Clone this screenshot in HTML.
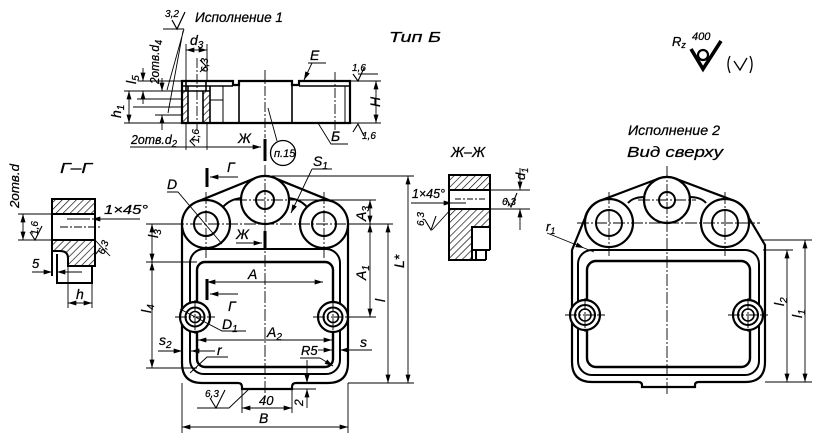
<!DOCTYPE html>
<html><head><meta charset="utf-8"><style>
html,body{margin:0;padding:0;background:#fff}
svg{display:block}
text{font-family:"Liberation Sans",sans-serif;font-style:italic;fill:#000;stroke:#000;stroke-width:0.25}
</style></head><body>
<svg width="827" height="445" viewBox="0 0 827 445" xmlns="http://www.w3.org/2000/svg">
<defs>
<marker id="ar" viewBox="0 0 10 6" refX="10" refY="3" markerWidth="9" markerHeight="5" markerUnits="userSpaceOnUse" orient="auto-start-reverse"><path d="M0,0 L10,3 L0,6 Z" fill="#000"/></marker>
<pattern id="h" width="5" height="5" patternUnits="userSpaceOnUse" patternTransform="rotate(45)"><line x1="0" y1="0" x2="0" y2="5" stroke="#000" stroke-width="1.3"/></pattern>
</defs>
<rect width="827" height="445" fill="#fff"/>

<!-- ============ TOP SECTION VIEW (Исполнение 1) ============ -->
<g stroke="#000" fill="none">
<rect x="182" y="91" width="6" height="32" fill="url(#h)" stroke="none"/>
<rect x="203" y="91" width="7" height="32" fill="url(#h)" stroke="none"/>
<path stroke-width="2.2" d="M182,123 L182,81 L233,81 L233,85 L239,85 L239,81 L292,81 L292,85 L299,85 L299,81 L350,81 L350,123 Z"/>
<path stroke-width="1.6" d="M182,86 H233 M299,86 H350 M239,81 V123 M292,81 V123 M210,86 V123 M188,86 V123 M203,91 V123 M182,91 H210 M186,81 V91 M206,81 V91"/>
<path stroke-width="1" d="M223,86 V100 M210,100 H223 M223,100 V123 M345,86 V123"/>
<path stroke-width="0.9" stroke-dasharray="10 2 2 2" d="M197,58 V130 M265,70 V138 M335,72 V130"/>
<path stroke-width="0.9" d="M350,81 H381 M350,123 H381"/>
<line x1="376" y1="81" x2="376" y2="123" stroke-width="0.9" marker-start="url(#ar)" marker-end="url(#ar)"/>
<path stroke-width="0.9" d="M124,91 H182 M137,99 H182 M133,107 H182 M155,115 H182 M124,123 H182 M138,81 H182"/>
<line x1="129" y1="91" x2="129" y2="123" stroke-width="0.9" marker-start="url(#ar)" marker-end="url(#ar)"/>
<line x1="143" y1="68" x2="143" y2="81" stroke-width="0.9" marker-end="url(#ar)"/>
<line x1="143" y1="104" x2="143" y2="91" stroke-width="0.9" marker-end="url(#ar)"/>
<line x1="162" y1="78" x2="162" y2="91" stroke-width="0.9" marker-end="url(#ar)"/>
<line x1="162" y1="130" x2="162" y2="115" stroke-width="0.9" marker-end="url(#ar)"/>
<path stroke-width="0.9" d="M163,29 H184 M184,29 L167,90 M183,31 L168,113"/>
<path stroke-width="1.2" d="M172,20 L177,29 L185,12"/>
<path stroke-width="0.9" d="M186,44 V81 M207,44 V81"/>
<line x1="186" y1="50" x2="207" y2="50" stroke-width="0.9" marker-start="url(#ar)" marker-end="url(#ar)"/>
<path stroke-width="1.1" d="M200,60 L206,66 L200,72"/>
<path stroke-width="0.9" d="M308,63 H326"/>
<line x1="312" y1="63" x2="304" y2="80" stroke-width="0.9" marker-end="url(#ar)"/>
<path stroke-width="1.1" d="M353,74 L358,81 L364,68 M358,74 H378"/>
<path stroke-width="1.1" d="M353,132 L358,124 L364,136"/>
<path stroke-width="0.9" d="M318,123 L331,144 H348"/>
<circle cx="283" cy="153" r="12.5" stroke-width="1.3"/>
<line x1="277" y1="141" x2="268" y2="108" stroke-width="0.9"/>
<path stroke-width="0.9" d="M186,123 V150 M207,123 V150"/>
<line x1="130" y1="147" x2="261" y2="147" stroke-width="0.9" marker-end="url(#ar)"/>
<path stroke-width="1.1" d="M195,136 L190,141 L195,146"/>
<line x1="265" y1="139" x2="265" y2="161" stroke-width="3"/>
</g>
<text x="195" y="22" font-size="14" textLength="88" lengthAdjust="spacingAndGlyphs">Исполнение 1</text>
<text x="165" y="17" font-size="10" textLength="14" lengthAdjust="spacingAndGlyphs">3,2</text>
<text x="389" y="42" font-size="15" textLength="52" lengthAdjust="spacingAndGlyphs">Тип  Б</text>
<text x="190" y="45" font-size="14">d<tspan font-size="10" dy="3">3</tspan></text>
<text x="208" y="72" font-size="10" transform="rotate(-90 208 72)">6,3</text>
<text x="310" y="60" font-size="14">E</text>
<text x="352" y="71" font-size="10">1,6</text>
<text x="362" y="139" font-size="10">1,6</text>
<text x="331" y="141" font-size="14">Б</text>
<text x="274" y="157" font-size="11">п.15</text>
<text x="380" y="107" font-size="14" transform="rotate(-90 380 107)">H</text>
<text x="121" y="118" font-size="14" transform="rotate(-90 121 118)">h<tspan font-size="10" dy="3">1</tspan></text>
<text x="136" y="84" font-size="14" transform="rotate(-90 136 84)">l<tspan font-size="10" dy="3">5</tspan></text>
<text x="159" y="84" font-size="13" transform="rotate(-90 159 84)" textLength="44" lengthAdjust="spacingAndGlyphs">2отв.d<tspan font-size="10" dy="3">4</tspan></text>
<text x="131" y="144" font-size="13" textLength="46" lengthAdjust="spacingAndGlyphs">2отв.d<tspan font-size="10" dy="3">2</tspan></text>
<text x="199" y="143" font-size="10" transform="rotate(-90 199 143)">1,6</text>
<text x="238" y="143" font-size="14">Ж</text>

<!-- ============ MAIN VIEW ============ -->
<g stroke="#000" fill="none">
<path stroke-width="2.2" d="M182,232 L182,224 A24,24 0 0 1 197,201.8 L256,177.8 A24,24 0 0 1 274,177.8 L333,201.8 A24,24 0 0 1 348,224 L348,363 Q348,383 328,383 L296,383 Q292,383 292,387 L292,389 L242,389 L242,387 Q242,383 238,383 L202,383 Q182,383 182,363 Z"/>
<rect x="190" y="249" width="150" height="125" rx="14" stroke-width="2"/>
<rect x="197" y="262" width="136" height="105" rx="8" stroke-width="2.4"/>
<circle cx="265" cy="200" r="24" fill="#fff" stroke-width="2.2"/>
<circle cx="265" cy="200" r="9" stroke-width="2"/>
<circle cx="206" cy="224" r="24" fill="#fff" stroke-width="2.2"/>
<circle cx="206" cy="224" r="12" stroke-width="2"/>
<circle cx="324" cy="224" r="24" fill="#fff" stroke-width="2.2"/>
<circle cx="324" cy="224" r="12" stroke-width="2"/>
<path stroke-width="2" d="M223,207 Q230,199 242,198 M288,198 Q300,199 307,207"/>
<circle cx="195" cy="317" r="15" fill="#fff" stroke-width="2.2"/>
<circle cx="195" cy="317" r="9.5" stroke-width="2"/>
<circle cx="195" cy="317" r="5.5" stroke-width="1.6"/>
<circle cx="333" cy="317" r="15" fill="#fff" stroke-width="2.2"/>
<circle cx="333" cy="317" r="9.5" stroke-width="2"/>
<circle cx="333" cy="317" r="5.5" stroke-width="1.6"/>
<path stroke-width="0.9" stroke-dasharray="12 2 2 2" d="M265,165 V398 M235,200 H300 M172,224 H360 M206,192 V258 M324,192 V258 M175,317 H215 M195,300 V334 M313,317 H353 M333,300 V334"/>
<line x1="207" y1="168" x2="207" y2="187" stroke-width="3"/>
<line x1="238" y1="177" x2="210" y2="177" stroke-width="0.9" marker-end="url(#ar)"/>
<line x1="207" y1="279" x2="207" y2="300" stroke-width="3"/>
<line x1="238" y1="294" x2="210" y2="294" stroke-width="0.9" marker-end="url(#ar)"/>
<line x1="265" y1="231" x2="265" y2="250" stroke-width="3"/>
<line x1="236" y1="243" x2="262" y2="243" stroke-width="0.9" marker-end="url(#ar)"/>
<path stroke-width="0.9" d="M167,192 H178 L222,244"/>
<path stroke-width="0.9" d="M312,169 H332"/>
<line x1="312" y1="169" x2="291" y2="213" stroke-width="0.9" marker-end="url(#ar)"/>
<path stroke-width="0.9" d="M272,176 H414 M292,200 H376 M349,224 H393 M348,317 H376 M348,383 H414"/>
<line x1="370" y1="200" x2="370" y2="224" stroke-width="0.9" marker-start="url(#ar)" marker-end="url(#ar)"/>
<line x1="370" y1="224" x2="370" y2="317" stroke-width="0.9" marker-start="url(#ar)" marker-end="url(#ar)"/>
<line x1="388" y1="224" x2="388" y2="383" stroke-width="0.9" marker-start="url(#ar)" marker-end="url(#ar)"/>
<line x1="408" y1="176" x2="408" y2="383" stroke-width="0.9" marker-start="url(#ar)" marker-end="url(#ar)"/>
<path stroke-width="0.9" d="M146,224 H182 M146,262 H197 M146,368 H197"/>
<line x1="152" y1="224" x2="152" y2="262" stroke-width="0.9" marker-start="url(#ar)" marker-end="url(#ar)"/>
<line x1="152" y1="262" x2="152" y2="368" stroke-width="0.9" marker-start="url(#ar)" marker-end="url(#ar)"/>
<line x1="207" y1="282" x2="323" y2="282" stroke-width="0.9" marker-start="url(#ar)" marker-end="url(#ar)"/>
<line x1="198" y1="340" x2="332" y2="340" stroke-width="0.9" marker-start="url(#ar)" marker-end="url(#ar)"/>
<path stroke-width="0.9" d="M246,331 H222 L180,309"/>
<line x1="158" y1="351" x2="182" y2="351" stroke-width="0.9" marker-end="url(#ar)"/>
<line x1="215" y1="351" x2="191" y2="351" stroke-width="0.9" marker-end="url(#ar)"/>
<path stroke-width="0.9" d="M228,357 H207 L190,373"/>
<path stroke-width="0.9" d="M300,358 H320"/>
<line x1="320" y1="358" x2="333" y2="366" stroke-width="0.9" marker-end="url(#ar)"/>
<line x1="318" y1="350" x2="332" y2="350" stroke-width="0.9" marker-end="url(#ar)"/>
<line x1="372" y1="350" x2="340" y2="350" stroke-width="0.9" marker-end="url(#ar)"/>
<path stroke-width="0.9" d="M182,383 V433 M348,383 V433 M242,389 V413 M292,389 V413 M292,389 H316"/>
<line x1="242" y1="408" x2="292" y2="408" stroke-width="0.9" marker-start="url(#ar)" marker-end="url(#ar)"/>
<line x1="182" y1="427" x2="348" y2="427" stroke-width="0.9" marker-start="url(#ar)" marker-end="url(#ar)"/>
<line x1="307" y1="360" x2="307" y2="383" stroke-width="0.9" marker-end="url(#ar)"/>
<line x1="307" y1="408" x2="307" y2="389" stroke-width="0.9" marker-end="url(#ar)"/>
<path stroke-width="0.9" d="M197,408 H229 L249,389"/>
<path stroke-width="1.1" d="M210,398 L216,408 L225,390"/>
</g>
<text x="167" y="189" font-size="14">D</text>
<text x="313" y="166" font-size="14">S<tspan font-size="10" dy="3">1</tspan></text>
<text x="227" y="172" font-size="14">Г</text>
<text x="228" y="311" font-size="14">Г</text>
<text x="236" y="239" font-size="14">Ж</text>
<text x="248" y="279" font-size="14">A</text>
<text x="366" y="221" font-size="14" transform="rotate(-90 366 221)">A<tspan font-size="10" dy="3">3</tspan></text>
<text x="366" y="280" font-size="14" transform="rotate(-90 366 280)">A<tspan font-size="10" dy="3">1</tspan></text>
<text x="385" y="302" font-size="14" transform="rotate(-90 385 302)">l</text>
<text x="404" y="268" font-size="14" transform="rotate(-90 404 268)">L*</text>
<text x="158" y="238" font-size="14" transform="rotate(-90 158 238)">l<tspan font-size="10" dy="3">3</tspan></text>
<text x="151" y="313" font-size="14" transform="rotate(-90 151 313)">l<tspan font-size="10" dy="3">4</tspan></text>
<text x="222" y="329" font-size="14">D<tspan font-size="10" dy="3">1</tspan></text>
<text x="267" y="337" font-size="14">A<tspan font-size="10" dy="3">2</tspan></text>
<text x="159" y="345" font-size="14">s<tspan font-size="10" dy="3">2</tspan></text>
<text x="217" y="355" font-size="14">r</text>
<text x="301" y="355" font-size="13">R5</text>
<text x="360" y="347" font-size="14">s</text>
<text x="259" y="405" font-size="13">40</text>
<text x="259" y="423" font-size="14">B</text>
<text x="303" y="406" font-size="12" transform="rotate(-90 303 406)">2</text>
<text x="205" y="397" font-size="10">6,3</text>

<!-- ============ Г–Г SECTION ============ -->
<g stroke="#000" fill="none">
<rect x="52" y="199" width="43" height="15" fill="url(#h)" stroke-width="2"/>
<path fill="url(#h)" stroke-width="2" d="M52,240 L95,240 L95,266 L68,266 L68,258 Q68,251 60,251 L52,251 Z"/>
<path stroke-width="2" d="M52,199 V276 M95,199 V266 M92,266 V283 H57 V254 M52,214 H95 M52,240 H95"/>
<path stroke-width="0.9" stroke-dasharray="8 2 2 2" d="M60,227 H100"/>
<path stroke-width="0.9" d="M68,266 V308 M92,283 V308 M18,214 H52 M18,240 H52"/>
<line x1="23" y1="214" x2="23" y2="240" stroke-width="0.9" marker-start="url(#ar)" marker-end="url(#ar)"/>
<path stroke-width="1.1" d="M30,232 L35,240 L42,226"/>
<line x1="140" y1="219" x2="92" y2="219" stroke-width="0.9" marker-end="url(#ar)"/>
<path stroke-width="0.9" d="M67,219 H90"/>
<path stroke-width="0.9" d="M95,240 L110,256"/>
<path stroke-width="1.1" d="M99,250 L95,255"/>
<line x1="32" y1="272" x2="52" y2="272" stroke-width="0.9" marker-end="url(#ar)"/>
<line x1="82" y1="272" x2="57" y2="272" stroke-width="0.9" marker-end="url(#ar)"/>
<line x1="68" y1="303" x2="92" y2="303" stroke-width="0.9" marker-start="url(#ar)" marker-end="url(#ar)"/>
</g>
<text x="60" y="173" font-size="15" textLength="32" lengthAdjust="spacingAndGlyphs">Г–Г</text>
<text x="19" y="208" font-size="13" transform="rotate(-90 19 208)" textLength="44" lengthAdjust="spacingAndGlyphs">2отв.d</text>
<text x="38" y="235" font-size="10" transform="rotate(-90 38 235)">1,6</text>
<text x="104" y="214" font-size="13" textLength="44" lengthAdjust="spacingAndGlyphs">1×45°</text>
<text x="104" y="255" font-size="10" transform="rotate(-70 104 255)">6,3</text>
<text x="32" y="268" font-size="13">5</text>
<text x="76" y="299" font-size="14">h</text>

<!-- ============ Ж–Ж SECTION ============ -->
<g stroke="#000" fill="none">
<rect x="449" y="175" width="41" height="15" fill="url(#h)" stroke-width="2"/>
<path fill="url(#h)" stroke-width="2" d="M449,209 L490,209 L490,227 L472,227 L472,260 L449,260 Z"/>
<path stroke-width="2" d="M449,175 V260 M490,175 V250 M472,227 H490 M472,250 H490 M476,250 V260 M486,250 V260 M472,260 H486 M449,190 H490 M449,209 H490"/>
<path stroke-width="0.9" stroke-dasharray="6 2 2 2" d="M455,199 H485"/>
<path stroke-width="0.9" d="M490,190 H530 M490,209 H530"/>
<line x1="520" y1="168" x2="520" y2="190" stroke-width="0.9" marker-end="url(#ar)"/>
<line x1="520" y1="230" x2="520" y2="209" stroke-width="0.9" marker-end="url(#ar)"/>
<path stroke-width="1.1" d="M506,198 L511,207 L517,193"/>
<line x1="411" y1="203" x2="452" y2="203" stroke-width="0.9" marker-end="url(#ar)"/>
<path stroke-width="0.9" d="M452,203 H466 M432,230 L452,208"/>
<path stroke-width="1.1" d="M425,220 L431,230 L436,216"/>
</g>
<text x="451" y="157" font-size="15" textLength="34" lengthAdjust="spacingAndGlyphs">Ж–Ж</text>
<text x="525" y="180" font-size="13" transform="rotate(-90 525 180)">d<tspan font-size="9" dy="3">1</tspan></text>
<text x="502" y="205" font-size="10">6,3</text>
<text x="412" y="198" font-size="13" textLength="33" lengthAdjust="spacingAndGlyphs">1×45°</text>
<text x="424" y="226" font-size="10" transform="rotate(-90 424 226)">6,3</text>

<!-- ============ RIGHT VIEW (Исполнение 2) ============ -->
<g stroke="#000" fill="none">
<path stroke-width="2.2" d="M572,250 L585,218 A24,24 0 0 1 600.1,200.7 L658.5,178.6 A23,23 0 0 1 675.5,178.6 L733.9,200.7 A24,24 0 0 1 749,218 L765,245 L765,362 Q765,382 745,382 L699,382 Q695,382 695,385 L695,387 L642,387 L642,385 Q642,382 638,382 L592,382 Q572,382 572,362 Z"/>
<rect x="578" y="250" width="181" height="125" rx="14" stroke-width="2"/>
<rect x="587" y="261" width="163" height="106" rx="9" stroke-width="2.4"/>
<circle cx="667" cy="200" r="23" fill="#fff" stroke-width="2.2"/>
<circle cx="667" cy="200" r="8" stroke-width="2"/>
<circle cx="609" cy="223" r="24" fill="#fff" stroke-width="2.2"/>
<circle cx="609" cy="223" r="13" stroke-width="2"/>
<circle cx="725" cy="223" r="24" fill="#fff" stroke-width="2.2"/>
<circle cx="725" cy="223" r="13" stroke-width="2"/>
<path stroke-width="2" d="M628,203 Q633,197 645,197 M689,197 Q701,197 706,203"/>
<circle cx="585" cy="315" r="15" fill="#fff" stroke-width="2.2"/>
<circle cx="585" cy="315" r="10" stroke-width="2"/>
<circle cx="585" cy="315" r="6" stroke-width="1.6"/>
<circle cx="748" cy="315" r="15" fill="#fff" stroke-width="2.2"/>
<circle cx="748" cy="315" r="10" stroke-width="2"/>
<circle cx="748" cy="315" r="6" stroke-width="1.6"/>
<path stroke-width="0.9" stroke-dasharray="12 2 2 2" d="M667,166 V396 M638,200 H696 M577,223 H760 M609,192 V256 M725,192 V256 M565,315 H605 M585,298 V332 M728,315 H768 M748,298 V332"/>
<path stroke-width="0.9" d="M763,240 H812 M763,250 H793 M765,382 H812"/>
<line x1="805" y1="240" x2="805" y2="382" stroke-width="0.9" marker-start="url(#ar)" marker-end="url(#ar)"/>
<line x1="787" y1="250" x2="787" y2="382" stroke-width="0.9" marker-start="url(#ar)" marker-end="url(#ar)"/>
<line x1="547" y1="233" x2="584" y2="248" stroke-width="0.9" marker-end="url(#ar)"/>
<path stroke-width="0.9" d="M584,248 L594,252"/>
</g>
<text x="628" y="135" font-size="14" textLength="92" lengthAdjust="spacingAndGlyphs">Исполнение 2</text>
<text x="627" y="157" font-size="15" textLength="96" lengthAdjust="spacingAndGlyphs">Вид  сверху</text>
<text x="546" y="231" font-size="13">r<tspan font-size="9" dy="3">1</tspan></text>
<text x="784" y="306" font-size="14" transform="rotate(-90 784 306)">l<tspan font-size="10" dy="3">2</tspan></text>
<text x="802" y="318" font-size="14" transform="rotate(-90 802 318)">l<tspan font-size="10" dy="3">1</tspan></text>

<!-- Rz 400 symbol -->
<text x="672" y="46" font-size="13">R<tspan font-size="9" dy="2">z</tspan></text>
<text x="692" y="40" font-size="11">400</text>
<path d="M691,49 L703,69 L721,41" stroke="#000" stroke-width="3.6" fill="none"/>
<circle cx="703" cy="55" r="5" stroke="#000" stroke-width="2.2" fill="none"/>
<path d="M730,56 Q726,64 730,73 M750,56 Q754,64 750,73" stroke="#000" stroke-width="1.3" fill="none"/>
<path d="M734,61 L740,70 L747,58" stroke="#000" stroke-width="1.3" fill="none"/>
</svg>
</body></html>
